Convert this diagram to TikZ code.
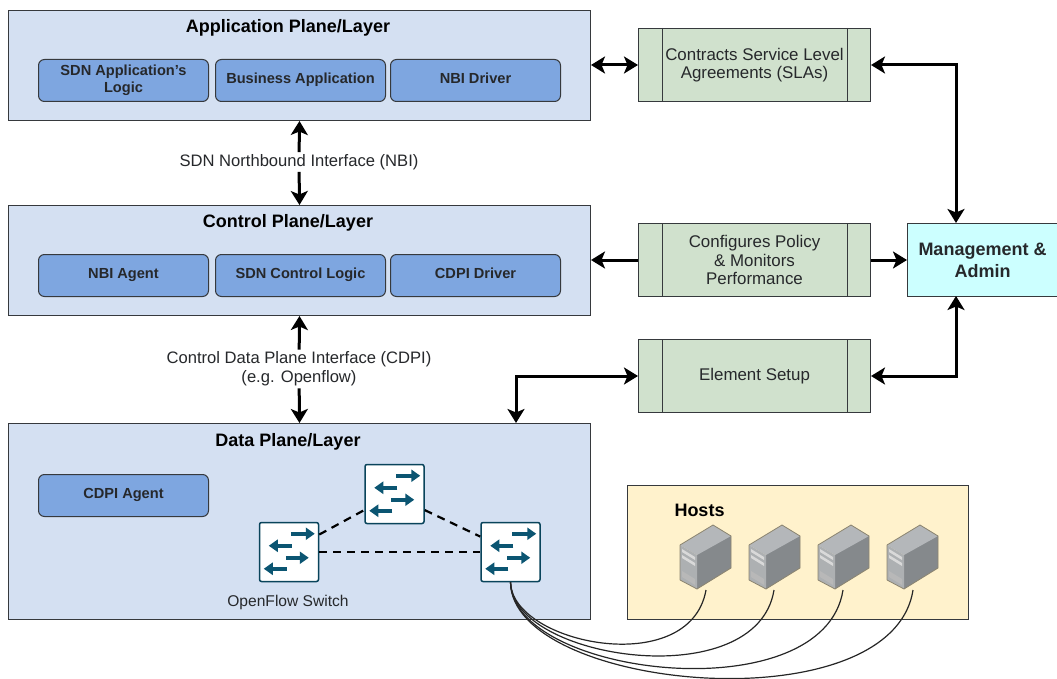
\documentclass[tikz,border=0pt]{standalone}
\usepackage{fontspec}
\setmainfont{Liberation Sans}
\usetikzlibrary{arrows.meta}

\definecolor{planefill}{HTML}{D4E0F2}
\definecolor{innerfill}{HTML}{7EA6E0}
\definecolor{greenfill}{HTML}{D0E1CD}
\definecolor{adminfill}{HTML}{CCFFFF}
\definecolor{hostfill}{HTML}{FFF2CC}
\definecolor{edgegray}{HTML}{36393D}
\definecolor{textgray}{HTML}{26282B}
\definecolor{swteal}{HTML}{0B5572}
\definecolor{hosttop}{HTML}{B4B7BA}
\definecolor{hostfront}{HTML}{ADB0B2}
\definecolor{hostside}{HTML}{85898C}

\tikzset{
  >={Stealth[length=14pt,width=17pt,inset=3.5pt]},
  plane/.style={draw=edgegray, line width=1pt, fill=planefill, anchor=north west, inner sep=0pt, minimum width=582pt, minimum height=110pt},
  inner/.style={draw=edgegray, line width=1pt, fill=innerfill, rounded corners=6pt, anchor=north west, inner sep=0pt, minimum width=170pt, minimum height=42pt, align=center, text=textgray, text depth=4pt, font=\fontsize{14.6}{17}\selectfont\bfseries},
  process/.style={draw=edgegray, line width=1pt, fill=greenfill, anchor=north west, inner sep=0pt, minimum width=232pt, minimum height=73pt, align=center, text=textgray, font=\fontsize{16.9}{18.5}\selectfont},
  title/.style={text=black, font=\fontsize{18}{20}\selectfont\bfseries, inner sep=0pt},
  iface/.style={fill=white, text=textgray, align=center, inner sep=2pt, font=\fontsize{16.6}{19}\selectfont},
  switchbox/.style={draw=swteal!80!black, line width=1.5pt, fill=white, rounded corners=2pt, minimum size=59pt, inner sep=0pt},
  swarrow/.style={draw=swteal, line width=3.6pt, -{Triangle[length=9pt,width=12pt]}},
  thickline/.style={line width=3pt, black},
  dashline/.style={line width=2.2pt, black, dash pattern=on 8pt off 6pt},
  hostline/.style={line width=1.2pt, black!85}
}

\begin{document}
\begin{tikzpicture}[x=1pt,y=-1pt]
\useasboundingbox (0,0) rectangle (1057,679);

% planes
\node[plane] (app) at (8,10) {};
\node[plane] (ctrl) at (8,205) {};
\node[plane, minimum height=196pt] (data) at (8,423) {};
\node[title] (apptitle) at (288,28) {Application Plane/Layer};
\node[title] (ctrltitle) at (288,223) {Control Plane/Layer};
\node[title] (datatitle) at (288,442) {Data Plane/Layer};

\node[inner] (logic) at (38,59) {SDN Application's\\Logic};
\node[inner] (business) at (215,59) {Business Application};
\node[inner] (nbidriver) at (390,59) {NBI Driver};
\node[inner] (nbiagent) at (38,254) {NBI Agent};
\node[inner] (ctrllogic) at (215,254) {SDN Control Logic};
\node[inner] (cdpidriver) at (390,254) {CDPI Driver};
\node[inner] (cdpiagent) at (38,474) {CDPI Agent};

% right column
\node[process] (sla) at (638,28) {Contracts Service Level\\Agreements (SLAs)};
\node[process] (cfg) at (638,223) {Configures Policy\\\& Monitors\\Performance};
\node[process] (elem) at (638,339) {Element Setup};
\foreach \p in {sla,cfg,elem} {
  \draw[draw=edgegray, line width=1pt] ([xshift=24pt]\p.north west) to ([xshift=24pt]\p.south west);
  \draw[draw=edgegray, line width=1pt] ([xshift=-24pt]\p.north east) to ([xshift=-24pt]\p.south east);
}
\node[draw=edgegray, line width=1pt, fill=adminfill, anchor=north west, inner sep=0pt, minimum width=150pt, minimum height=73pt, align=center, text=textgray, font=\fontsize{18}{22}\selectfont\bfseries] (mgmt) at (907,223) {Management \&\\Admin};
\coordinate (mgmttop) at (956,223);
\coordinate (mgmtbot) at (956,296);
\coordinate (datatop) at (516,423);

% interfaces
\node[iface] (nbi) at (299,162) {SDN Northbound Interface (NBI)};
\node[iface] (cdpi) at (299,369) {Control Data Plane Interface (CDPI)\\(e.g. Openflow)};

\draw[thickline, ->] (nbi) to (app.south);
\draw[thickline, ->] (nbi) to (ctrl.north);
\draw[thickline, ->] (cdpi) to (ctrl.south);
\draw[thickline, ->] (cdpi) to (data.north);
\draw[thickline, <->] (app.east |- sla.west) to (sla.west);
\draw[thickline, ->] (cfg.west) to (ctrl.east |- cfg.west);
\draw[thickline, ->] (cfg.east) to (mgmt.west);
\draw[thickline, <->] (sla.east) -| (mgmttop);
\draw[thickline, <->] (elem.east) -| (mgmtbot);
\draw[thickline, <->] (elem.west) -| (datatop);

% switches
\node[switchbox] (sw1) at (289,552) {};
\node[switchbox] (sw2) at (394.5,494) {};
\node[switchbox] (sw3) at (510.5,552) {};
\foreach \s in {sw1,sw2,sw3} {
  \draw[swarrow] ([shift={(32,12)}]\s.north west) to ([shift={(56,12)}]\s.north west);
  \draw[swarrow] ([shift={(33,24)}]\s.north west) to ([shift={(10,24)}]\s.north west);
  \draw[swarrow] ([shift={(27,36)}]\s.north west) to ([shift={(50,36)}]\s.north west);
  \draw[swarrow] ([shift={(28,47)}]\s.north west) to ([shift={(5,47)}]\s.north west);
}
\draw[dashline] (sw1.30) to (sw2.208);
\draw[dashline] (sw1.east) to (sw3.west);
\draw[dashline] (sw2.332) to (sw3.153);
\node[text=textgray, font=\fontsize{15.6}{18}\selectfont] (oflabel) at (288,602) {OpenFlow Switch};

% hosts
\node[draw=edgegray, line width=1pt, fill=hostfill, anchor=north west, inner sep=0pt, minimum width=341pt, minimum height=134pt] (hosts) at (626.5,485) {};
\node[title] (hostlabel) at (699.5,510) {Hosts};
\foreach \i/\dx in {1/0,2/69,3/138,4/207} {
  \begin{scope}[shift={(\dx,0)}]
    \fill[hostside] (713,525) -- (731,536) -- (731,568) -- (697,589) -- (697,555) -- cycle;
    \fill[hosttop] (680,545) -- (713,525) -- (731,536) -- (697,555) -- cycle;
    \fill[hostfront] (680,545) -- (697,555) -- (697,589) -- (680,580) -- cycle;
    \fill[white!85!black] (682,549) -- (695,557) -- (695,560) -- (682,552) -- cycle;
    \fill[white!85!black] (682,555) -- (695,563) -- (695,566) -- (682,558) -- cycle;
    \fill[white!72!black] (682,571) -- (695,579) -- (695,585) -- (682,577) -- cycle;
    \draw[draw=black!45!hostfill, line width=0.8pt, line join=round] (713,525) -- (731,536) -- (731,568) -- (697,589) -- (680,580) -- (680,545) -- cycle;
  \end{scope}
}
\coordinate (host1) at (706,590);
\coordinate (host2) at (774,590);
\coordinate (host3) at (843,590);
\coordinate (host4) at (913,590);
\draw[hostline] (sw3.south) .. controls (512,644) and (690,680) .. (host1);
\draw[hostline] (sw3.south) .. controls (512,660) and (757,696) .. (host2);
\draw[hostline] (sw3.south) .. controls (512,677) and (824,713) .. (host3);
\draw[hostline] (sw3.south) .. controls (512,691) and (892,726) .. (host4);

\end{tikzpicture}
\end{document}
